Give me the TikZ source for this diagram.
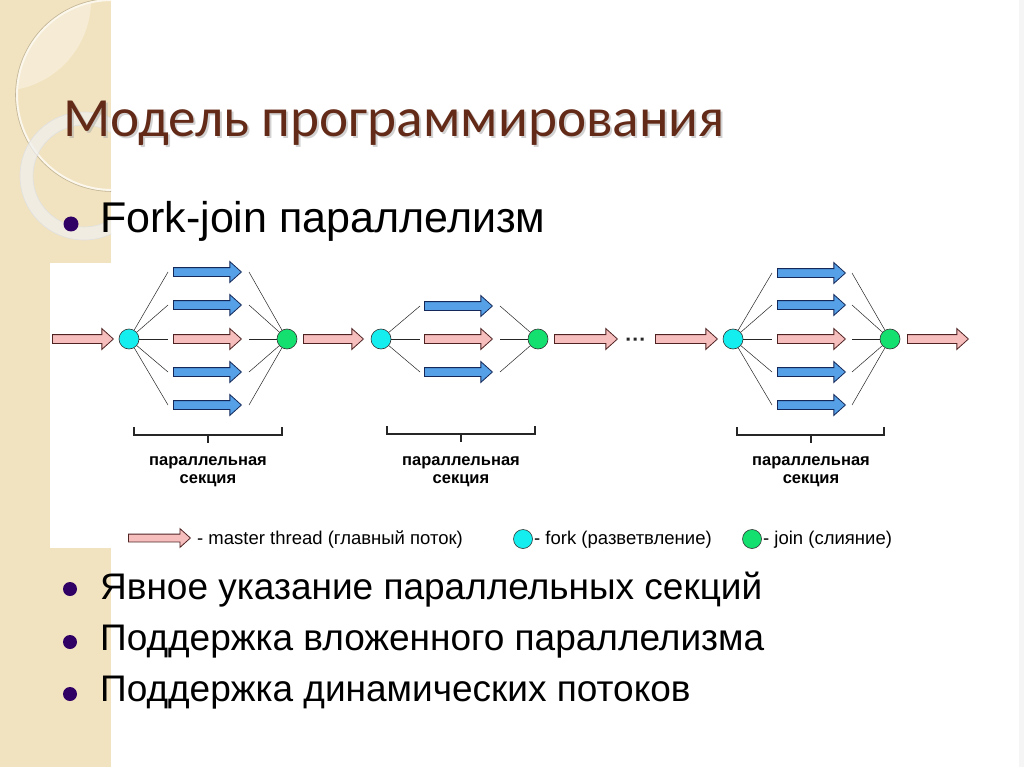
\documentclass[tikz,border=0pt]{standalone}
\usepackage{fontspec}
\setmainfont{Liberation Sans}
\newfontfamily\titlef{Carlito}
\usetikzlibrary{shapes.arrows}
\definecolor{beige}{RGB}{242,227,192}
\definecolor{pinkfill}{RGB}{247,190,190}
\definecolor{pinkdraw}{RGB}{80,35,35}
\definecolor{bluefill}{RGB}{85,160,230}
\definecolor{bluedraw}{RGB}{20,40,90}
\definecolor{forkfill}{RGB}{20,238,238}
\definecolor{joinfill}{RGB}{20,224,112}
\definecolor{bulletc}{RGB}{48,0,100}
\definecolor{titlec}{RGB}{99,42,24}
\begin{document}
\begin{tikzpicture}[x=1pt,y=-1pt,
  arr/.style={single arrow, anchor=tail, text height=4pt, text depth=4pt, text width=0pt,
    inner xsep=0pt, inner ysep=0pt, single arrow head extend=6pt, single arrow tip angle=84,
    line width=0.8pt},
  thr/.style={arr, draw=bluedraw, fill=bluefill},
  mst/.style={arr, draw=pinkdraw, fill=pinkfill},
  forkn/.style={circle, minimum size=20pt, inner sep=0pt, draw=black!80, line width=0.6pt, fill=forkfill},
  joinn/.style={circle, minimum size=20pt, inner sep=0pt, draw=black!80, line width=0.6pt, fill=joinfill},
  ln/.style={line width=0.5pt, black!85},
  brk/.style={line width=1.6pt, black!85},
  seclbl/.style={font=\bfseries\fontsize{16.5}{19}\selectfont, anchor=base, inner sep=0pt},
  legtxt/.style={font=\fontsize{18.5}{21}\selectfont, anchor=base west, inner sep=0pt},
  bul/.style={circle, fill=bulletc, inner sep=0pt, minimum size=15pt},
  bultxt/.style={anchor=base west, inner sep=0pt, font=\fontsize{37}{41}\selectfont}
]
\useasboundingbox (0,0) rectangle (1024,767);
\fill[white] (0,0) rectangle (1024,767);
% left strip
\fill[beige] (0,0) rectangle (111,767);
\begin{scope}
  \clip (0,0) rectangle (111,263);
  \begin{scope}
    \clip (112,95) circle (95);
    \fill[white, opacity=0.35] (0,0) circle (91);
  \end{scope}
  \draw[white!70!beige, line width=2pt] (112,95) circle (95);
  \draw[black!20!beige, line width=0.6pt] (112,95) circle (96.5);
  \fill[even odd rule, white!60!gray!30, opacity=0.7] (84,176) circle (64) (84,176) circle (51);
  \draw[black!12, line width=0.6pt] (84,176) circle (64) (84,176) circle (51);
\end{scope}
\fill[white] (50,263) rectangle (111,548);
\fill[black!4] (1019,0) rectangle (1024,767);

% title
\node[anchor=base west, inner sep=0pt, text=black!35, opacity=0.5, font=\titlef\fontsize{55.3}{60}\selectfont] at (65,139) {Модель программирования};
\node[anchor=base west, inner sep=0pt, text=titlec, font=\titlef\fontsize{55.3}{60}\selectfont] (title) at (63,137) {Модель программирования};

% bullets
\node[bul] (b0) at (71,224) {};
\node[bultxt, font=\fontsize{43}{47}\selectfont] (t0) at (100,233) {Fork-join параллелизм};
\node[bul, minimum size=14pt] (b1) at (70,589) {};
\node[bultxt] (t1) at (100,599) {Явное указание параллельных секций};
\node[bul, minimum size=14pt] (b2) at (70,642) {};
\node[bultxt] (t2) at (100,650) {Поддержка вложенного параллелизма};
\node[bul, minimum size=14pt] (b3) at (70,694) {};
\node[bultxt] (t3) at (100,701) {Поддержка динамических потоков};

% main thread arrows
\node[mst, minimum height=61pt] (m0) at (52,339) {};
\node[forkn] (f1) at (129,339) {};
\node[joinn] (j1) at (287,339) {};
\node[mst, minimum height=60pt] (m1) at (303,339) {};
\node[forkn] (f2) at (381,339) {};
\node[joinn] (j2) at (538,339) {};
\node[mst, minimum height=63pt] (m2) at (554,339) {};
\node[mst, minimum height=62pt] (m3) at (655,339) {};
\node[forkn] (f3) at (733,339) {};
\node[joinn] (j3) at (890,339) {};
\node[mst, minimum height=61pt] (m4) at (907,339) {};
\fill[black!85] (626.5,337.5) rectangle (629.5,340.5) (633.5,337.5) rectangle (636.5,340.5) (640.5,337.5) rectangle (643.5,340.5);

% section 1
\foreach \y/\n in {272/a,305/b,372/d,405/e} {
  \node[thr, minimum height=68pt] (s1\n) at (173,\y) {};
}
\node[mst, minimum height=68pt] (s1c) at (173,339) {};
\foreach \n in {a,b,c,d,e} {
  \draw[ln] (f1) -- ([xshift=-5pt]s1\n.tail);
  \draw[ln] ([xshift=7pt]s1\n.tip) -- (j1);
}
% section 2
\foreach \y/\n in {306/a,372/d} {
  \node[thr, minimum height=68pt] (s2\n) at (424,\y) {};
}
\node[mst, minimum height=68pt] (s2c) at (424,339) {};
\foreach \n in {a,c,d} {
  \draw[ln] (f2) -- ([xshift=-4pt]s2\n.tail);
  \draw[ln] ([xshift=7pt]s2\n.tip) -- (j2);
}
% section 3
\foreach \y/\n in {273/a,305/b,372/d,405/e} {
  \node[thr, minimum height=68pt] (s3\n) at (777,\y) {};
}
\node[mst, minimum height=68pt] (s3c) at (777,339) {};
\foreach \n in {a,b,c,d,e} {
  \draw[ln] (f3) -- ([xshift=-5pt]s3\n.tail);
  \draw[ln] ([xshift=6pt]s3\n.tip) -- (j3);
}

% brackets
\draw[brk] (134,427) -- (134,435) -- (282,435) -- (282,427) (208,435) -- (208,443);
\draw[brk] (387,426) -- (387,434) -- (535,434) -- (535,426) (461,434) -- (461,442);
\draw[brk] (737,427) -- (737,435) -- (884,435) -- (884,427) (811,435) -- (811,443);
\node[seclbl] (l1a) at (208,465) {параллельная};
\node[seclbl] (l1b) at (208,483) {секция};
\node[seclbl] (l2a) at (461,465) {параллельная};
\node[seclbl] (l2b) at (461,483) {секция};
\node[seclbl] (l3a) at (811,465) {параллельная};
\node[seclbl] (l3b) at (811,483) {секция};

% legend
\node[mst, minimum height=62pt, text height=3.5pt, text depth=3.5pt, single arrow head extend=5.5pt] (lg) at (128,538) {};
\node[legtxt] (lgt) at (197,544) {- master thread (главный поток)};
\node[forkn, minimum size=19pt] (lf) at (523,539) {};
\node[legtxt] (lft) at (534,544) {- fork (разветвление)};
\node[joinn, minimum size=19pt] (lj) at (752,539) {};
\node[legtxt] (ljt) at (763,544) {- join (слияние)};
\end{tikzpicture}
\end{document}
